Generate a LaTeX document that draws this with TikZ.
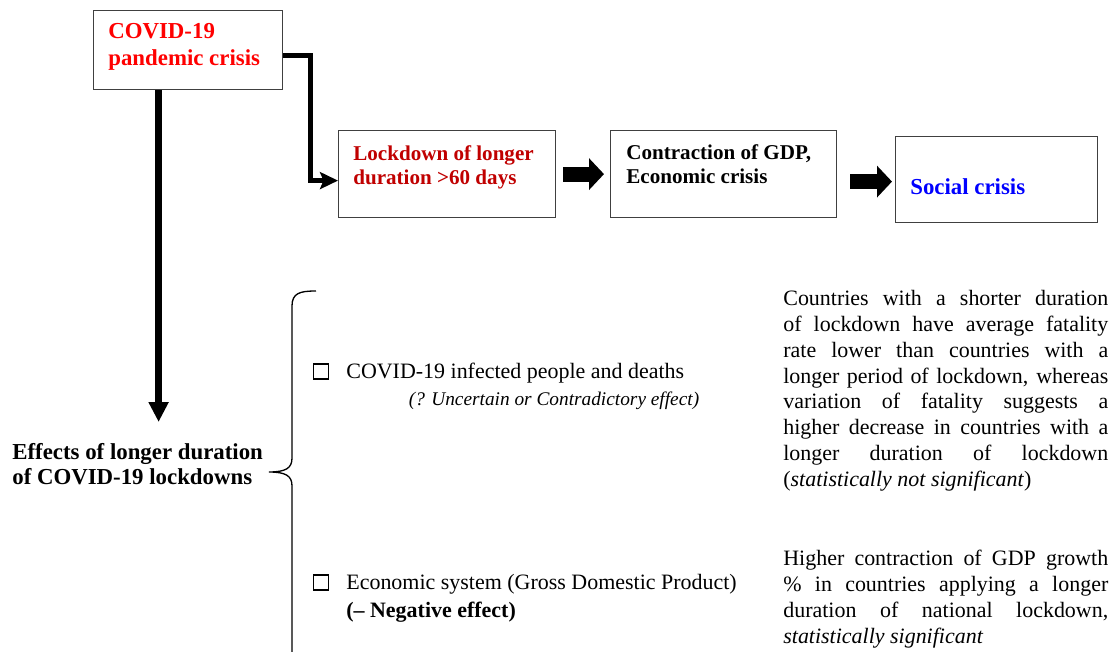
\documentclass[tikz,border=0pt]{standalone}
\usepackage{fontspec}
\setmainfont{Liberation Serif}
\usetikzlibrary{arrows.meta,positioning}
\definecolor{covidred}{HTML}{FF0000}
\definecolor{lockred}{HTML}{C00000}
\definecolor{socialblue}{HTML}{0000FF}
\tikzset{
    %Define standard arrow tip
    >=Stealth,
    %Define style for boxes
    crisisbox/.style={
           rectangle,
           draw=black!75, line width=0.7pt,
           anchor=north west,
           inner sep=0pt},
    %Define style for texts in boxes
    boxtext/.style={
           anchor=north west,
           inner sep=0pt,
           align=left,
           font=\fontsize{12}{14}\selectfont\bfseries},
    %Define style for plain texts
    bodytext/.style={
           inner sep=0pt,
           font=\fontsize{12.5}{14.7}\selectfont},
    notetext/.style={
           bodytext,
           anchor=north west,
           text width=6.5cm,
           align=justify},
    checkbox/.style={
           rectangle,
           draw=black, line width=1.1pt,
           minimum size=0.3cm,
           inner sep=0pt},
    % Define arrow styles
    elbow/.style={
           -{Stealth[length=0.36cm,width=0.34cm,inset=0.07cm]},
           line width=0.1cm},
    downarr/.style={
           -{Triangle[length=0.4cm,width=0.38cm]},
           line width=0.13cm},
    blockarr/.style={
           -{Triangle[length=0.3cm,width=0.62cm]},
           line width=0.3cm}
}

\begin{document}
\begin{tikzpicture}[x=0.02cm,y=-0.02cm]
\useasboundingbox (0,0) rectangle (1110,652);

% boxes of the chain
\node[crisisbox, minimum width=3.78cm, minimum height=1.58cm] (pandbox) at (93,10) {};
\node[crisisbox, minimum width=4.34cm, minimum height=1.74cm] (lockbox) at (338,130) {};
\node[crisisbox, minimum width=4.52cm, minimum height=1.74cm] (gdpbox) at (610,130) {};
\node[crisisbox, minimum width=4.04cm, minimum height=1.72cm] (socialbox) at (895,136) {};

\node[boxtext, text=covidred, font=\fontsize{13}{15.3}\selectfont\bfseries]
  (pand) at ([shift={(15,13)}]pandbox.north west) {COVID-19\\pandemic crisis};
\node[boxtext, text=lockred] (lock) at ([shift={(15,15)}]lockbox.north west)
  {Lockdown of longer\\duration >60 days};
\node[boxtext] (gdp) at ([shift={(16,14)}]gdpbox.north west)
  {Contraction of GDP,\\Economic crisis};
\node[boxtext, text=socialblue, font=\fontsize{13}{15}\selectfont\bfseries]
  (social) at ([shift={(15,42)}]socialbox.north west) {Social crisis};

% effects
\node[bodytext, anchor=north west, align=left, font=\fontsize{13}{14.3}\selectfont\bfseries]
  (effects) at (12,443) {Effects of longer duration\\of COVID-19 lockdowns};

\node[checkbox] (chk1) at (321,371.5) {};
\node[bodytext, anchor=base west] (infected) at (346,378) {COVID-19 infected people and deaths};
\node[bodytext, anchor=base, font=\fontsize{11}{14}\selectfont\itshape]
  (uncertain) at (554,405) {(? Uncertain or Contradictory effect)};

\node[checkbox] (chk2) at (321,582.5) {};
\node[bodytext, anchor=base west] (economic) at (346,589) {Economic system (Gross Domestic Product)};
\node[bodytext, anchor=base west, font=\fontsize{12.5}{14.7}\selectfont\bfseries]
  (negative) at (346,617) {(\textendash{} Negative effect)};

\node[notetext] (note1) at (783,290) {Countries with a shorter duration\linebreak
  of lockdown have average fatality\linebreak
  rate lower than countries with a\linebreak
  longer period of lockdown, whereas\linebreak
  variation of fatality suggests a\linebreak
  higher decrease in countries with a\linebreak
  longer duration of lockdown\linebreak
  (\textit{statistically not significant})};
\node[notetext] (note2) at (783,550) {Higher contraction of GDP growth\linebreak
  \% in countries applying a longer\linebreak
  duration of national lockdown,\linebreak
  \textit{statistically significant}};

% brace
\draw[line width=0.75pt] (316,291) .. controls (300,291) and (292,293) .. (292,306)
  -- (292,458) .. controls (292,468) and (286,472) .. (269,472)
  .. controls (286,472) and (292,476) .. (292,486) -- (292,652);

% arrows
\draw[elbow] ([yshift=-0.11cm]pandbox.east) -- ++(27.5,0) |- ([yshift=-0.13cm]lockbox.west);
\draw[downarr] ([xshift=-0.59cm]pandbox.south) -- ([xshift=-0.59cm]pandbox.south |- effects.north)
  [shorten >=0.42cm];
\draw[blockarr, shorten <=0.14cm, shorten >=0.12cm] (lockbox.east) -- (gdpbox.west);
\draw[blockarr, shorten <=0.26cm, shorten >=0.06cm] ([yshift=-0.04cm]gdpbox.east |- socialbox.west)
  -- ([yshift=-0.04cm]socialbox.west);

\end{tikzpicture}
\end{document}
